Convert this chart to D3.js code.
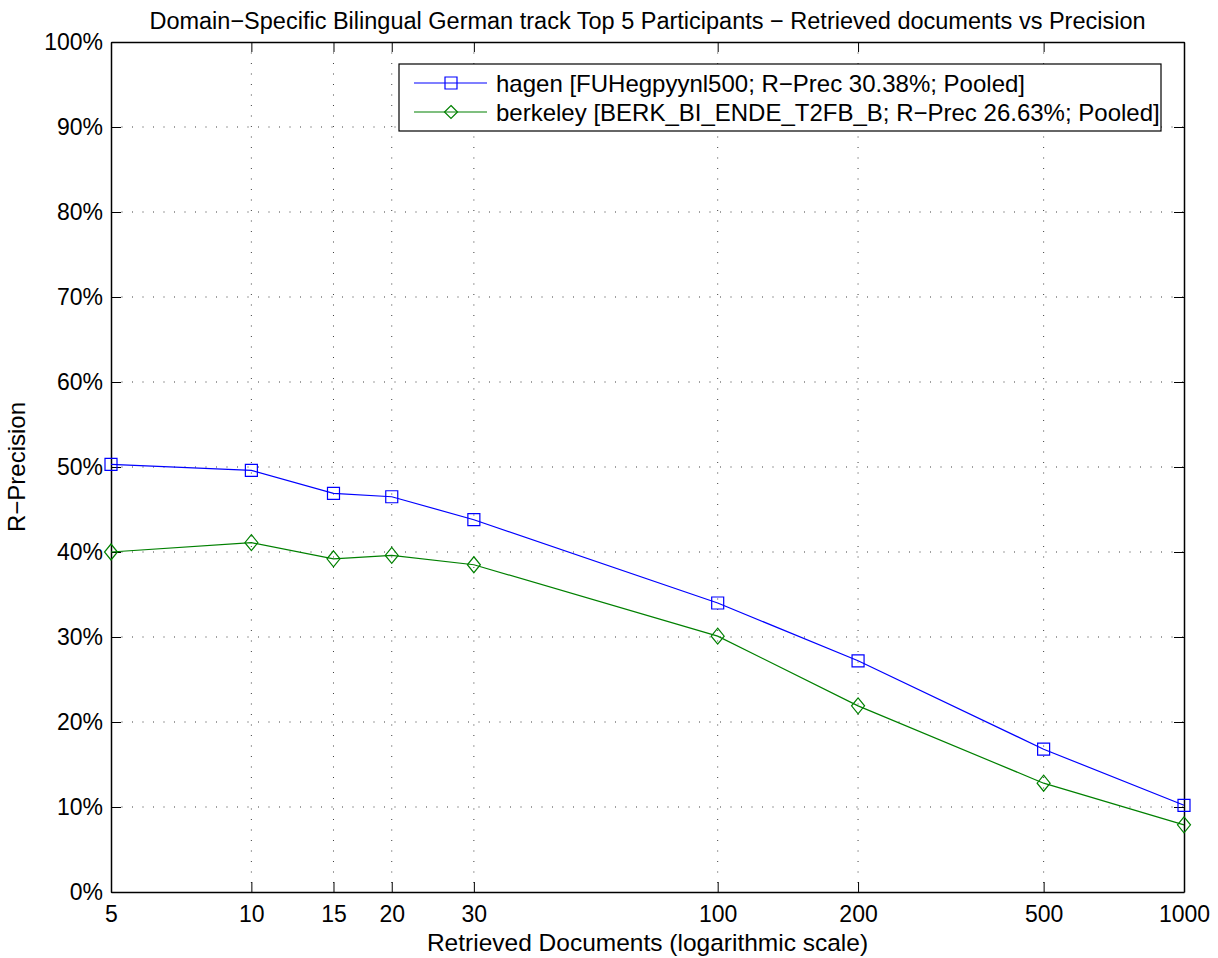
<!DOCTYPE html>
<html>
<head>
  <meta charset="utf-8">
  <title>Retrieved documents vs Precision</title>
  <script src="https://d3js.org/d3.v7.min.js"></script>
  <style>
    body { margin: 0; background: #fff; }
    svg { font-family: "Liberation Sans", Arial, sans-serif; }
    .grid line { stroke: #000; stroke-width: 1; stroke-dasharray: 1, 9.5; opacity: 0.75; }
    .line { fill: none; stroke-width: 1.2px; }
  </style>
</head>
<body>
  <script>
    var docs = [5, 10, 15, 20, 30, 100, 200, 500, 1000];
    var hagen = [50.3, 49.6, 46.9, 46.5, 43.8, 34.0, 27.2, 16.8, 10.2];
    var berkeley = [40.0, 41.1, 39.2, 39.6, 38.5, 30.1, 21.9, 12.8, 7.9];
    var yTicks = [0, 10, 20, 30, 40, 50, 60, 70, 80, 90, 100];
    var seriesNames = [
      "hagen [FUHegpyynl500; R\u2212Prec 30.38%; Pooled]",
      "berkeley [BERK_BI_ENDE_T2FB_B; R\u2212Prec 26.63%; Pooled]"
    ];
    var colors = ["#0000ff", "#008000"];
    var markers = ["square", "diamond"];

    var W = 1218, H = 958;
    var margin = {top: 42, right: 34, bottom: 66, left: 111},
        width = W - margin.left - margin.right,
        height = H - margin.top - margin.bottom;

    var x = d3.scaleLog().domain([5, 1000]).range([0, width]);
    var y = d3.scaleLinear().domain([0, 100]).range([height, 0]);

    var svg = d3.select("body").append("svg")
        .attr("width", W)
        .attr("height", H);

    var g = svg.append("g")
        .attr("transform", "translate(" + margin.left + "," + margin.top + ")");

    // dotted grid
    var grid = g.append("g").attr("class", "grid");
    grid.selectAll(".gx").data(docs.slice(1, -1)).enter().append("line")
        .attr("x1", function(d) { return x(d); }).attr("x2", function(d) { return x(d); })
        .attr("y1", 0).attr("y2", height);
    grid.selectAll(".gy").data(yTicks.slice(1, -1)).enter().append("line")
        .attr("y1", function(d) { return y(d); }).attr("y2", function(d) { return y(d); })
        .attr("x1", 0).attr("x2", width);

    // axes (ticks inside, box on)
    var fmtPct = function(d) { return d + "%"; };
    g.append("g")
        .attr("transform", "translate(0," + height + ")")
        .call(d3.axisBottom(x).tickValues(docs).tickFormat(d3.format("d")).tickSizeInner(-10).tickSizeOuter(0).tickPadding(14));
    g.append("g")
        .call(d3.axisTop(x).tickValues(docs).tickFormat("").tickSizeInner(-10).tickSizeOuter(0));
    g.append("g")
        .call(d3.axisLeft(y).tickValues(yTicks).tickFormat(fmtPct).tickSizeInner(-10).tickSizeOuter(0).tickPadding(8));
    g.append("g")
        .attr("transform", "translate(" + width + ",0)")
        .call(d3.axisRight(y).tickValues(yTicks).tickFormat("").tickSizeInner(-10).tickSizeOuter(0));

    g.selectAll(".domain").attr("stroke", "#000").attr("stroke-width", 1.5);
    g.selectAll(".tick line").attr("stroke", "#000");
    g.selectAll(".tick text").attr("font-size", 23).attr("fill", "#000")
        .attr("font-family", "'Liberation Sans', Arial, sans-serif");

    var symSquare = d3.symbol().type(d3.symbolSquare).size(144);
    function diamondPath(w, h) {
      return "M0," + (-h / 2) + "L" + (w / 2) + ",0L0," + (h / 2) + "L" + (-w / 2) + ",0Z";
    }

    var allSeries = [hagen, berkeley];
    var line = d3.line()
        .x(function(d, i) { return x(docs[i]); })
        .y(function(d) { return y(d); });

    allSeries.forEach(function(vals, k) {
      g.append("path")
          .datum(vals)
          .attr("class", "line")
          .attr("stroke", colors[k])
          .attr("d", line);
      g.selectAll(".m" + k).data(vals).enter().append("path")
          .attr("transform", function(d, i) { return "translate(" + x(docs[i]) + "," + y(d) + ")"; })
          .attr("d", markers[k] === "square" ? symSquare() : diamondPath(13, 16))
          .attr("fill", "none")
          .attr("stroke", colors[k])
          .attr("stroke-width", 1.2);
    });

    // legend
    var lg = svg.append("g").attr("transform", "translate(399,64)");
    lg.append("rect")
        .attr("width", 762).attr("height", 67)
        .attr("fill", "#fff").attr("stroke", "#000").attr("stroke-width", 1.2);
    seriesNames.forEach(function(name, k) {
      var ry = 19 + k * 29;
      lg.append("line")
          .attr("x1", 15).attr("x2", 88).attr("y1", ry).attr("y2", ry)
          .attr("stroke", colors[k]).attr("stroke-width", 1.2);
      lg.append("path")
          .attr("transform", "translate(52," + ry + ")")
          .attr("d", markers[k] === "square" ? symSquare() : diamondPath(13, 13))
          .attr("fill", "none").attr("stroke", colors[k]).attr("stroke-width", 1.2);
      lg.append("text")
          .attr("x", 97).attr("y", ry).attr("dy", "0.36em")
          .attr("font-size", 24).attr("fill", "#000")
          .text(name);
    });

    // title and labels
    svg.append("text")
        .attr("x", margin.left + width / 2).attr("y", 29)
        .attr("text-anchor", "middle").attr("font-size", 23.5)
        .text("Domain\u2212Specific Bilingual German track Top 5 Participants \u2212 Retrieved documents vs Precision");
    svg.append("text")
        .attr("x", margin.left + width / 2).attr("y", 951)
        .attr("text-anchor", "middle").attr("font-size", 24.5)
        .text("Retrieved Documents (logarithmic scale)");
    svg.append("text")
        .attr("transform", "translate(25," + (margin.top + height / 2) + ") rotate(-90)")
        .attr("text-anchor", "middle").attr("font-size", 24)
        .text("R\u2212Precision");
  </script>
</body>
</html>
